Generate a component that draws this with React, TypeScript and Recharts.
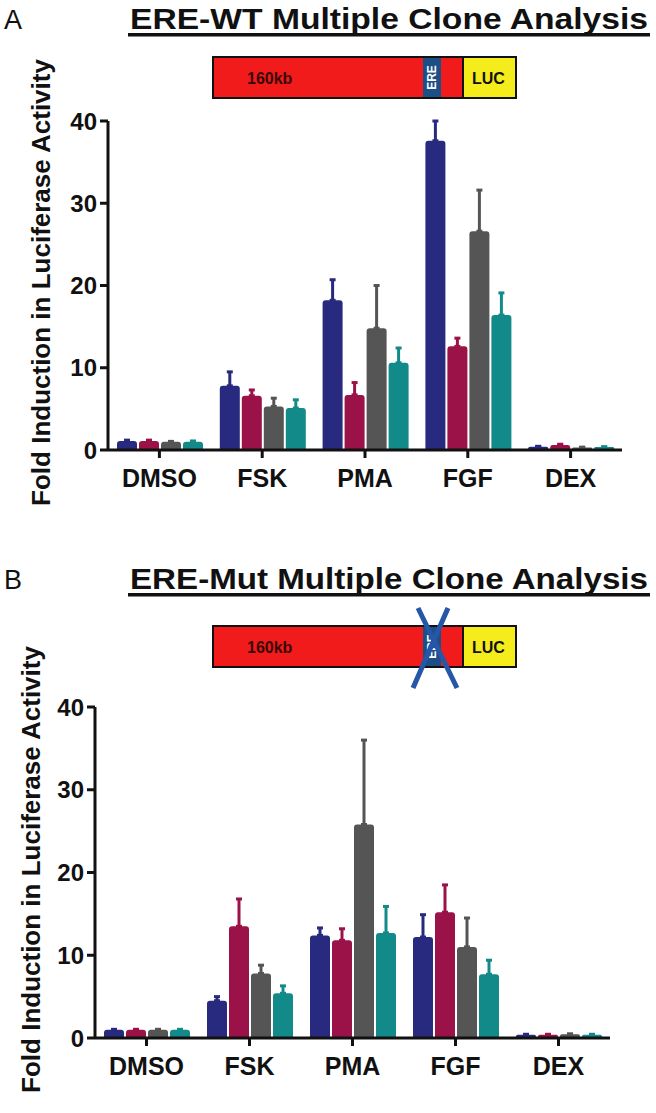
import React from 'react';
import { BarChart, Bar, XAxis, YAxis, ErrorBar, Label } from 'recharts';

const treatments = ['DMSO', 'FSK', 'PMA', 'FGF', 'DEX'];
const cloneNames = ['Clone 1', 'Clone 2', 'Clone 3', 'Clone 4'];
const cloneColors = ['#272a7e', '#9b1248', '#555555', '#138a8a'];
const yTicks = [0, 10, 20, 30, 40];

// ERE-WT panel (mean and upper SEM)
const wtClone1 = [1.1, 7.8, 18.2, 37.6, 0.4];
const wtClone1Err = [0.1, 1.7, 2.5, 2.4, 0.05];
const wtClone2 = [1.1, 6.6, 6.7, 12.6, 0.6];
const wtClone2Err = [0.1, 0.7, 1.5, 1.0, 0.1];
const wtClone3 = [1.0, 5.3, 14.8, 26.6, 0.3];
const wtClone3Err = [0.05, 1.0, 5.2, 5.0, 0.05];
const wtClone4 = [1.0, 5.1, 10.6, 16.4, 0.35];
const wtClone4Err = [0.1, 1.0, 1.8, 2.7, 0.05];

// ERE-Mut panel
const mutClone1 = [1.0, 4.5, 12.4, 12.2, 0.4];
const mutClone1Err = [0.05, 0.5, 0.9, 2.7, 0.05];
const mutClone2 = [1.0, 13.5, 11.8, 15.2, 0.4];
const mutClone2Err = [0.05, 3.3, 1.4, 3.3, 0.05];
const mutClone3 = [1.0, 7.8, 25.8, 11.0, 0.45];
const mutClone3Err = [0.05, 1.0, 10.2, 3.5, 0.05];
const mutClone4 = [1.0, 5.4, 12.7, 7.7, 0.4];
const mutClone4Err = [0.05, 0.9, 3.2, 1.7, 0.05];

const FONT = '"Liberation Sans", Arial, sans-serif';

function buildRows(means: number[][], errs: number[][]) {
  return treatments.map((name, i) => {
    const row: any = { name };
    means.forEach((m, s) => {
      row['c' + s] = m[i];
      row['e' + s] = [0, errs[s][i]];
    });
    return row;
  });
}

const wtRows = buildRows(
  [wtClone1, wtClone2, wtClone3, wtClone4],
  [wtClone1Err, wtClone2Err, wtClone3Err, wtClone4Err]
);
const mutRows = buildRows(
  [mutClone1, mutClone2, mutClone3, mutClone4],
  [mutClone1Err, mutClone2Err, mutClone3Err, mutClone4Err]
);

interface PanelProps {
  rows: any[];
  top: number;
  plotTop: number;
  plotBottom: number;
  plotLeft: number;
  plotRight: number;
  labelX: number;
}

const Panel: React.FC<PanelProps> = ({ rows, top, plotTop, plotBottom, plotLeft, plotRight, labelX }) => {
  const height = 540;
  const xAxisHeight = 40;
  const yAxisWidth = plotLeft - 8;
  return (
    <div style={{ position: 'absolute', left: 0, top }}>
      <BarChart
        width={656}
        height={height}
        data={rows}
        margin={{ top: plotTop - top, right: 656 - plotRight, bottom: top + height - plotBottom - xAxisHeight, left: 8 }}
        barCategoryGap={9}
        barGap={2}
      >
        <XAxis
          dataKey="name"
          height={xAxisHeight}
          axisLine={{ stroke: '#111', strokeWidth: 3 }}
          tickLine={{ stroke: '#111', strokeWidth: 3 }}
          tickSize={8}
          tickMargin={11}
          tick={{ fill: '#111', fontSize: 25, fontWeight: 700, fontFamily: FONT }}
        />
        <YAxis
          width={yAxisWidth}
          domain={[0, 40]}
          ticks={yTicks}
          axisLine={{ stroke: '#111', strokeWidth: 3 }}
          tickLine={{ stroke: '#111', strokeWidth: 3 }}
          tickSize={8}
          tickMargin={3}
          tick={{ fill: '#111', fontSize: 24, fontWeight: 700, fontFamily: FONT }}
        >
          <Label
            content={(props: any) => {
              const vb = props.viewBox || {};
              const cy = (vb.y ?? plotTop) + (vb.height ?? plotBottom - plotTop) / 2 - 3;
              return (
                <text
                  x={labelX}
                  y={cy}
                  transform={`rotate(-90 ${labelX} ${cy})`}
                  textAnchor="middle"
                  dominantBaseline="central"
                  fontSize={26}
                  fontWeight={700}
                  fontFamily={FONT}
                  fill="#111"
                >
                  Fold Induction in Luciferase Activity
                </text>
              );
            }}
          />
        </YAxis>
        {cloneNames.map((n, s) => (
          <Bar
            key={n}
            name={n}
            dataKey={'c' + s}
            fill={cloneColors[s]}
            radius={[3, 3, 0, 0]}
            isAnimationActive={false}
          >
            <ErrorBar
              dataKey={'e' + s}
              direction="y"
              width={3}
              strokeWidth={3}
              stroke={cloneColors[s]}
              isAnimationActive={false}
            />
          </Bar>
        ))}
      </BarChart>
    </div>
  );
};

const Construct: React.FC<{ y: number; mutated?: boolean }> = ({ y, mutated }) => {
  const h = 41;
  const cy = y + h / 2;
  return (
    <g>
      <rect x={213} y={y} width={250} height={h} fill="#f21b1b" />
      <rect x={423} y={y} width={18} height={h} fill="#1c4f86" />
      <text
        x={432}
        y={cy}
        transform={`rotate(-90 432 ${cy})`}
        textAnchor="middle"
        dominantBaseline="central"
        fontSize={12}
        fontWeight={700}
        fontFamily={FONT}
        fill="#fff"
      >
        ERE
      </text>
      <rect x={463} y={y} width={53} height={h} fill="#f5ec1c" />
      <line x1={463} y1={y} x2={463} y2={y + h} stroke="#111" strokeWidth={2} />
      <rect x={213} y={y} width={303} height={h} fill="none" stroke="#111" strokeWidth={2} />
      <text x={247} y={cy + 6} fontSize={16} fontWeight={700} fontFamily={FONT} fill="#3a0808">
        160kb
      </text>
      <text x={472} y={cy + 6} fontSize={16} fontWeight={700} fontFamily={FONT} fill="#111">
        LUC
      </text>
      {mutated && (
        <g stroke="#2656a8" strokeWidth={5}>
          <line x1={418} y1={y - 18} x2={457} y2={y + h + 21} />
          <line x1={448} y1={y - 18} x2={413} y2={y + h + 21} />
        </g>
      )}
    </g>
  );
};

const Heading: React.FC<{ letter: string; title: string; base: number }> = ({ letter, title, base }) => (
  <g fontFamily={FONT} fill="#111">
    <text x={4} y={base} fontSize={27}>
      {letter}
    </text>
    <text x={130} y={base} fontSize={29} fontWeight={700} textLength={518} lengthAdjust="spacingAndGlyphs">
      {title}
    </text>
    <rect x={128} y={base + 4} width={522} height={3.5} />
  </g>
);

export default function App() {
  return (
    <div style={{ position: 'absolute', left: 0, top: 0, width: 656, height: 1113, background: '#fff', overflow: 'hidden' }}>
      <Panel rows={wtRows} top={0} plotTop={121} plotBottom={450} plotLeft={108} plotRight={622} labelX={41} />
      <Panel rows={mutRows} top={570} plotTop={707} plotBottom={1038} plotLeft={95} plotRight={610} labelX={31} />
      <svg width={656} height={1113} style={{ position: 'absolute', left: 0, top: 0, pointerEvents: 'none' }}>
        <Heading letter="A" title="ERE-WT Multiple Clone Analysis" base={29} />
        <Construct y={57} />
        <Heading letter="B" title="ERE-Mut Multiple Clone Analysis" base={589} />
        <Construct y={626} mutated />
      </svg>
    </div>
  );
}
